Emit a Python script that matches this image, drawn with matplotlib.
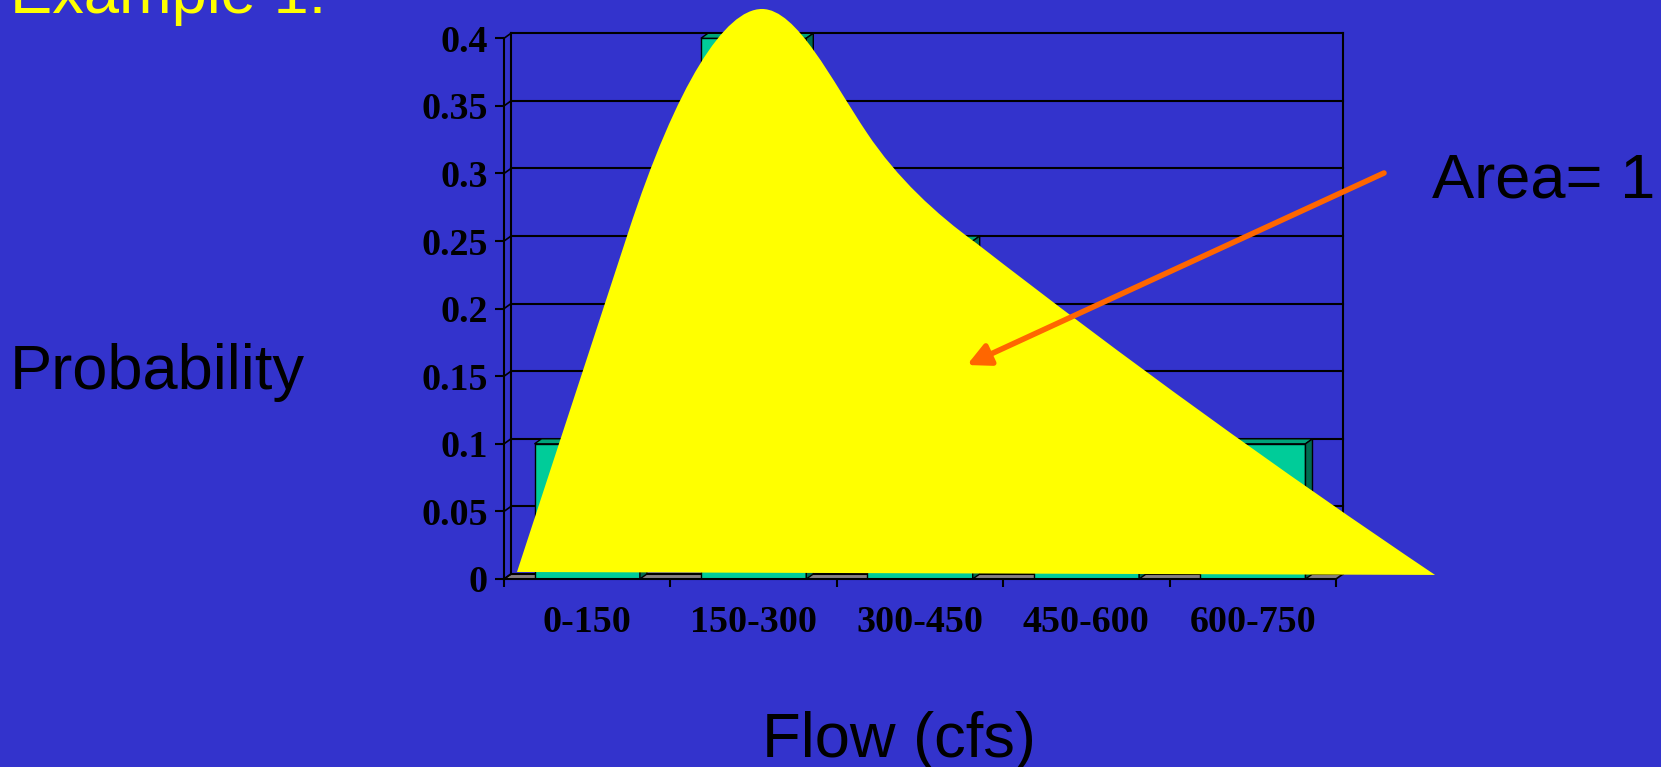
import matplotlib
matplotlib.use('Agg')
import matplotlib.pyplot as plt
from matplotlib.patches import Polygon, PathPatch, FancyArrowPatch
from matplotlib.path import Path

# Probability of each flow class
flow_classes = ['0-150', '150-300', '300-450', '450-600', '600-750']
class_edges = [0, 150, 300, 450, 600, 750]
probabilities = [0.1, 0.4, 0.25, 0.15, 0.1]

prob_ticks = [0, 0.05, 0.1, 0.15, 0.2, 0.25, 0.3, 0.35, 0.4]
prob_labels = ['0', '0.05', '0.1', '0.15', '0.2', '0.25', '0.3', '0.35', '0.4']

# Freehand density curve over the histogram (flow in cfs, probability),
# given as Bezier vertices: a straight rise, a rounded peak, a shoulder and
# a long straight-ish tail back down to the axis.
sketch_flow = [11.7, 111.8, 156.0, 199.2, 232.6, 264.1, 295.7, 327.2,
               354.3, 389.4, 425.5, 627.4, 839.3, 11.7]
sketch_prob = [0.0052, 0.256, 0.3669, 0.4217, 0.4217, 0.4217, 0.3684, 0.330,
               0.2967, 0.270, 0.2486, 0.1198, 0.003, 0.0052]
sketch_codes = [Path.MOVETO, Path.LINETO,
                Path.CURVE4, Path.CURVE4, Path.CURVE4,
                Path.CURVE4, Path.CURVE4, Path.CURVE4,
                Path.CURVE4, Path.CURVE4, Path.CURVE4,
                Path.CURVE3, Path.CURVE3,
                Path.CLOSEPOLY]

BG = '#3333cc'
W, H = 1661, 767

fig = plt.figure(figsize=(W / 100, H / 100), dpi=100, facecolor=BG)

# axes box = front face of the 3-D plot area
ax = fig.add_axes([504 / W, 1 - 579 / H, 832 / W, 540.7 / H])
ax.patch.set_visible(False)
ax.set_xlim(0, 750)
ax.set_ylim(0, 0.4)

# depth offset of the back wall (7 px right, 5 px up)
dx = 7 * 750 / 832
dy = 5 * 0.4 / 540.7

# floor
floor = Polygon([(0, 0), (750, 0), (750 + dx, dy), (dx, dy)], closed=True,
                facecolor='#858080', edgecolor='black', lw=1.2,
                clip_on=False, zorder=1)
ax.add_patch(floor)

# back-wall gridlines and the side-wall connectors
for v in prob_ticks:
    ax.plot([dx, 750 + dx], [v + dy, v + dy], color='black', lw=1.5,
            clip_on=False, zorder=1.5)
    ax.plot([0, dx], [v, v + dy], color='black', lw=1.2,
            clip_on=False, zorder=1.5)
ax.plot([dx, dx], [dy, 0.4 + dy], color='black', lw=1.5, clip_on=False,
        zorder=1.5)
ax.plot([750 + dx, 750 + dx], [dy, 0.4 + dy], color='black', lw=1.5,
        clip_on=False, zorder=1.5)

# 3-D columns: front face via bar(), top and side faces from the same values
centers = [(a + b) / 2 for a, b in zip(class_edges[:-1], class_edges[1:])]
bar_w = 95
ax.bar(centers, probabilities, width=bar_w, color='#00cc99',
       edgecolor='black', linewidth=1, zorder=3)
for c, v in zip(centers, probabilities):
    l, r = c - bar_w / 2, c + bar_w / 2
    top = Polygon([(l, v), (r, v), (r + dx, v + dy), (l + dx, v + dy)],
                  closed=True, facecolor='#00a37a', edgecolor='black',
                  lw=1, zorder=3, clip_on=False)
    side = Polygon([(r, 0), (r, v), (r + dx, v + dy), (r + dx, dy)],
                   closed=True, facecolor='#006b50', edgecolor='black',
                   lw=1, zorder=3, clip_on=False)
    ax.add_patch(top)
    ax.add_patch(side)

# density sketch
sketch = Path(list(zip(sketch_flow, sketch_prob)), sketch_codes)
ax.add_patch(PathPatch(sketch, facecolor='#ffff00', lw=0, zorder=5,
                       clip_on=False))

# axes, ticks and labels
for s in ['top', 'right']:
    ax.spines[s].set_visible(False)
for s in ['left', 'bottom']:
    ax.spines[s].set_linewidth(1.5)
    ax.spines[s].set_zorder(4)

ax.set_xticks(class_edges)
ax.set_xticklabels([])
ax.set_xticks(centers, minor=True)
ax.set_xticklabels(flow_classes, minor=True)
ax.tick_params(axis='x', which='major', direction='out', length=6, width=1.5)
ax.tick_params(axis='x', which='minor', length=0, pad=19)
ax.set_yticks(prob_ticks)
ax.set_yticklabels(prob_labels)
ax.tick_params(axis='y', direction='out', length=6.5, width=1.5, pad=5)

for lab in ax.get_xticklabels(minor=True) + ax.get_yticklabels():
    lab.set_fontfamily('Liberation Serif')
    lab.set_fontweight('bold')
    lab.set_fontsize(27.4)
    lab.set_color('black')

# slide text
txt = dict(family='Liberation Sans', fontsize=45.5, va='baseline')
fig.text(10 / W, 1 - 13 / H, 'Example 1:', color='#ffff00', **txt)
fig.text(10 / W, 1 - 389 / H, 'Probability', color='black', **txt)
fig.text(762 / W, 1 - 757 / H, 'Flow (cfs)', color='black', **txt)
fig.text(1432 / W, 1 - 197 / H, 'Area= 1', color='black', **txt)

arrow = FancyArrowPatch((1384 / W, 1 - 173 / H), (967 / W, 1 - 365 / H),
                        transform=fig.transFigure,
                        arrowstyle='-|>,head_length=0.8,head_width=0.4',
                        mutation_scale=17, color='#ff6600', lw=4,
                        shrinkA=0, shrinkB=0, zorder=10)
fig.patches.append(arrow)

fig.savefig('out.png', dpi=100, facecolor=BG)
